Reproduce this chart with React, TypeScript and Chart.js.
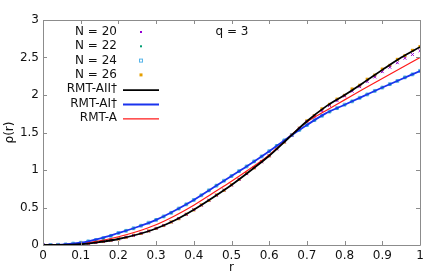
import React, { useEffect, useRef } from "react";
import { Chart, registerables } from "chart.js";

Chart.register(...registerables);

// theory curves sampled at r = 0, 0.05, ..., 1
const rLine = [0, 0.05, 0.1, 0.15, 0.2, 0.25, 0.3, 0.35, 0.4, 0.45, 0.5, 0.55, 0.6, 0.65, 0.7, 0.75, 0.8, 0.85, 0.9, 0.95, 1.0];
const rmtAIIdag = [0, 0.001, 0.01, 0.04, 0.08, 0.14, 0.22, 0.33, 0.47, 0.63, 0.8, 0.99, 1.19, 1.42, 1.65, 1.845, 2.0, 2.165, 2.335, 2.5, 2.64];
const rmtAIdag = [0, 0.005, 0.03, 0.085, 0.16, 0.24, 0.335, 0.46, 0.6, 0.76, 0.92, 1.08, 1.25, 1.43, 1.6, 1.755, 1.87, 1.985, 2.1, 2.21, 2.32];
const rmtA = [0, 0.002, 0.018, 0.055, 0.11, 0.18, 0.27, 0.39, 0.53, 0.69, 0.85, 1.02, 1.2, 1.43, 1.64, 1.79, 1.935, 2.08, 2.22, 2.36, 2.5];

// numerical data sampled at r = 0, 0.02, ..., 1
const rPts = [0, 0.02, 0.04, 0.06, 0.08, 0.1, 0.12, 0.14, 0.16, 0.18, 0.2, 0.22, 0.24, 0.26, 0.28, 0.3, 0.32, 0.34, 0.36, 0.38, 0.4, 0.42, 0.44, 0.46, 0.48, 0.5, 0.52, 0.54, 0.56, 0.58, 0.6, 0.62, 0.64, 0.66, 0.68, 0.7, 0.72, 0.74, 0.76, 0.78, 0.8, 0.82, 0.84, 0.86, 0.88, 0.9, 0.92, 0.94, 0.96, 0.98, 1.0];
const n20 = [0, 0, 0.001, 0.002, 0.005, 0.01, 0.021, 0.032, 0.049, 0.062, 0.08, 0.104, 0.127, 0.156, 0.185, 0.222, 0.261, 0.306, 0.354, 0.407, 0.471, 0.531, 0.598, 0.663, 0.733, 0.799, 0.877, 0.95, 1.031, 1.108, 1.19, 1.28, 1.375, 1.462, 1.556, 1.645, 1.718, 1.79, 1.86, 1.925, 1.985, 2.05, 2.11, 2.18, 2.24, 2.31, 2.37, 2.43, 2.49, 2.54, 2.59];
const n22 = [0, 0.001, 0.003, 0.009, 0.017, 0.031, 0.047, 0.069, 0.091, 0.124, 0.159, 0.191, 0.221, 0.259, 0.295, 0.336, 0.379, 0.431, 0.484, 0.544, 0.599, 0.665, 0.727, 0.793, 0.855, 0.921, 0.983, 1.049, 1.113, 1.183, 1.249, 1.323, 1.393, 1.467, 1.533, 1.601, 1.663, 1.725, 1.777, 1.823, 1.869, 1.917, 1.961, 2.009, 2.053, 2.101, 2.143, 2.189, 2.233, 2.277, 2.318];
const n24 = [0, 0.0005, 0.003, 0.008, 0.019, 0.03, 0.049, 0.067, 0.093, 0.122, 0.161, 0.189, 0.223, 0.257, 0.297, 0.334, 0.381, 0.429, 0.486, 0.542, 0.601, 0.663, 0.729, 0.791, 0.857, 0.919, 0.985, 1.047, 1.115, 1.181, 1.251, 1.321, 1.395, 1.465, 1.535, 1.599, 1.665, 1.723, 1.779, 1.825, 1.871, 1.915, 1.963, 2.007, 2.055, 2.099, 2.145, 2.187, 2.235, 2.275, 2.322];
const n26 = [0, 0, 0.001, 0.002, 0.005, 0.011, 0.019, 0.034, 0.047, 0.064, 0.081, 0.102, 0.13, 0.154, 0.188, 0.221, 0.26, 0.307, 0.351, 0.41, 0.468, 0.535, 0.595, 0.667, 0.73, 0.803, 0.874, 0.955, 1.028, 1.113, 1.188, 1.286, 1.373, 1.47, 1.557, 1.655, 1.725, 1.815, 1.875, 1.945, 1.995, 2.08, 2.13, 2.21, 2.265, 2.345, 2.395, 2.475, 2.525, 2.595, 2.645];

const xTicks = [0, 0.1, 0.2, 0.3, 0.4, 0.5, 0.6, 0.7, 0.8, 0.9, 1];
const yTicks = [0, 0.5, 1, 1.5, 2, 2.5, 3];

const seriesLabels = ["N = 20", "N = 22", "N = 24", "N = 26", "RMT-AII\u2020", "RMT-AI\u2020", "RMT-A"];
const annotation = "q = 3";
const xTitle = "r";
const yTitle = "\u03c1(r)";

const FONT = "DejaVu Sans";

const toXY = (xs: number[], ys: number[]) => xs.map((x, i) => ({ x, y: ys[i] }));

export default function App() {
  const ref = useRef<HTMLCanvasElement | null>(null);

  useEffect(() => {
    const canvas = ref.current;
    if (!canvas) return;

    const framePlugin = {
      id: "gnuframe",
      afterDraw(chart: any) {
        const ctx = chart.ctx;
        const { left, right, top, bottom } = chart.chartArea;
        const xs = chart.scales.x;
        const ys = chart.scales.y;
        ctx.save();
        ctx.strokeStyle = "#8c8c8c";
        ctx.lineWidth = 1;
        ctx.beginPath();
        ctx.rect(Math.round(left) + 0.5, Math.round(top) + 0.5, Math.round(right - left), Math.round(bottom - top));
        ctx.stroke();
        const tl = 4;
        ctx.beginPath();
        xTicks.forEach((v) => {
          const px = Math.round(xs.getPixelForValue(v)) + 0.5;
          ctx.moveTo(px, bottom);
          ctx.lineTo(px, bottom - tl);
          ctx.moveTo(px, top);
          ctx.lineTo(px, top + tl);
        });
        yTicks.forEach((v) => {
          const py = Math.round(ys.getPixelForValue(v)) + 0.5;
          ctx.moveTo(left, py);
          ctx.lineTo(left + tl, py);
          ctx.moveTo(right, py);
          ctx.lineTo(right - tl, py);
        });
        ctx.stroke();

        // axis titles
        ctx.fillStyle = "#111";
        ctx.font = `12px "${FONT}"`;
        ctx.textAlign = "center";
        ctx.textBaseline = "middle";
        ctx.fillText(xTitle, (left + right) / 2, 268);
        ctx.save();
        ctx.translate(10, (top + bottom) / 2);
        ctx.rotate(-Math.PI / 2);
        ctx.fillText(yTitle, 0, 0);
        ctx.restore();

        // annotation
        ctx.fillText(annotation, 232, 32);

        // key
        const ds = chart.data.datasets;
        ctx.textAlign = "right";
        for (let i = 0; i < ds.length; i++) {
          const d = ds[i];
          const y = 32 + i * 14.3;
          ctx.fillStyle = "#111";
          ctx.fillText(d.label, 117, y);
          if (d.showLine === false) {
            const cx = 141;
            ctx.fillStyle = d.pointBackgroundColor;
            ctx.strokeStyle = d.pointBorderColor;
            ctx.lineWidth = 1;
            if (d.pointStyle === "rect") {
              if (d.pointBackgroundColor === "transparent") {
                ctx.strokeRect(cx - 1.5, y - 1.5, 3, 3);
              } else {
                ctx.fillRect(cx - 1.5, y - 1.5, 3, 3);
              }
            } else {
              ctx.fillRect(cx - 1, y - 1, 2, 2);
            }
          } else {
            ctx.strokeStyle = d.borderColor;
            ctx.lineWidth = d.borderWidth;
            ctx.beginPath();
            ctx.moveTo(123, y + 1);
            ctx.lineTo(159, y + 1);
            ctx.stroke();
          }
        }
        ctx.restore();
      },
    };

    const chart = new Chart(canvas, {
      type: "line",
      data: {
        datasets: [
          {
            label: seriesLabels[0],
            data: toXY(rPts, n20),
            showLine: false,
            pointStyle: "crossRot",
            pointRadius: 2,
            pointBorderWidth: 1,
            pointBorderColor: "#9400d3",
            pointBackgroundColor: "#9400d3",
            borderColor: "#9400d3",
            order: 2,
          },
          {
            label: seriesLabels[1],
            data: toXY(rPts, n22),
            showLine: false,
            pointStyle: "circle",
            pointRadius: 1.2,
            pointBorderWidth: 0,
            pointBorderColor: "#009e73",
            pointBackgroundColor: "#009e73",
            borderColor: "#009e73",
            order: 2,
          },
          {
            label: seriesLabels[2],
            data: toXY(rPts, n24),
            showLine: false,
            pointStyle: "rect",
            pointRadius: 2,
            pointBorderWidth: 1,
            pointBorderColor: "#56b4e9",
            pointBackgroundColor: "transparent",
            borderColor: "#56b4e9",
            order: 2,
          },
          {
            label: seriesLabels[3],
            data: toXY(rPts, n26),
            showLine: false,
            pointStyle: "rect",
            pointRadius: 2.2,
            pointBorderWidth: 0,
            pointBorderColor: "#e69f00",
            pointBackgroundColor: "#e69f00",
            borderColor: "#e69f00",
            order: 2,
          },
          {
            label: seriesLabels[4],
            data: toXY(rLine, rmtAIIdag),
            borderColor: "#000000",
            borderWidth: 1.8,
            pointRadius: 0,
            cubicInterpolationMode: "monotone",
            order: 0,
          },
          {
            label: seriesLabels[5],
            data: toXY(rLine, rmtAIdag),
            borderColor: "#1a33ee",
            borderWidth: 1.8,
            pointRadius: 0,
            cubicInterpolationMode: "monotone",
            order: 0,
          },
          {
            label: seriesLabels[6],
            data: toXY(rLine, rmtA),
            borderColor: "#ff1a1a",
            borderWidth: 1.2,
            pointRadius: 0,
            cubicInterpolationMode: "monotone",
            order: 0,
          },
        ] as any,
      },
      options: {
        animation: false,
        responsive: false,
        maintainAspectRatio: false,
        layout: { padding: { top: 20, right: 16, left: 0, bottom: 0 } },
        plugins: { legend: { display: false }, tooltip: { enabled: false } },
        scales: {
          x: {
            type: "linear",
            min: 0,
            max: 1,
            afterFit: (s: any) => {
              s.height = 32;
            },
            afterBuildTicks: (s: any) => {
              s.ticks = xTicks.map((v) => ({ value: v }));
            },
            grid: { display: false, drawTicks: false, tickLength: 0 },
            border: { display: false },
            ticks: {
              padding: 4,
              color: "#111",
              font: { family: FONT, size: 12 },
              maxRotation: 0,
              callback: (v: any) => String(Math.round(Number(v) * 10) / 10),
            },
          },
          y: {
            type: "linear",
            min: 0,
            max: 3,
            afterFit: (s: any) => {
              s.width = 43;
            },
            afterBuildTicks: (s: any) => {
              s.ticks = yTicks.map((v) => ({ value: v }));
            },
            grid: { display: false, drawTicks: false, tickLength: 0 },
            border: { display: false },
            ticks: {
              padding: 4,
              color: "#111",
              font: { family: FONT, size: 12 },
              callback: (v: any) => String(Math.round(Number(v) * 10) / 10),
            },
          },
        },
      } as any,
      plugins: [framePlugin],
    });

    return () => chart.destroy();
  }, []);

  return (
    <div style={{ position: "fixed", left: 0, top: 0, width: 436, height: 277, background: "#fff" }}>
      <canvas ref={ref} width={436} height={277} style={{ display: "block", width: 436, height: 277 }} />
    </div>
  );
}
